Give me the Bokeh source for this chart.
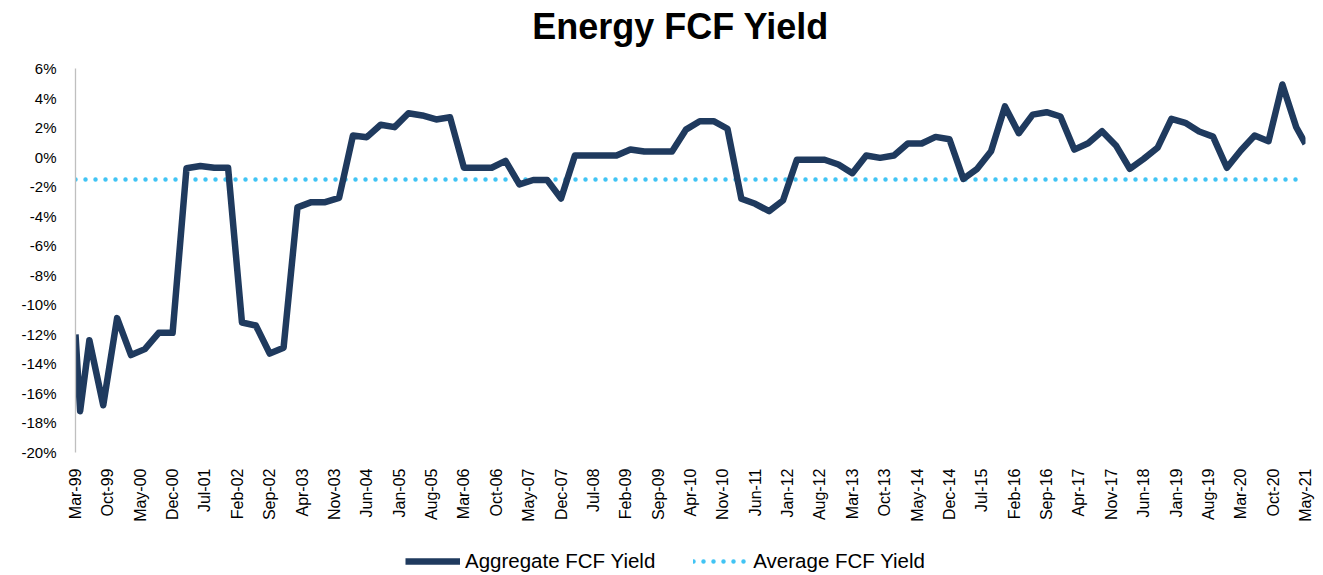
from bokeh.plotting import figure
from bokeh.layouts import column
from bokeh.models import FixedTicker, Legend, LegendItem, Label
from bokeh.embed import file_html
from bokeh.resources import INLINE

dates = [
    "1999-03", "1999-04", "1999-06", "1999-09", "1999-12",
    "2000-03", "2000-06", "2000-09", "2000-12",
    "2001-03", "2001-06", "2001-09", "2001-12",
    "2002-03", "2002-06", "2002-09", "2002-12",
    "2003-03", "2003-06", "2003-09", "2003-12",
    "2004-03", "2004-06", "2004-09", "2004-12",
    "2005-03", "2005-06", "2005-09", "2005-12",
    "2006-03", "2006-06", "2006-09", "2006-12",
    "2007-03", "2007-06", "2007-09", "2007-12",
    "2008-03", "2008-06", "2008-09", "2008-12",
    "2009-03", "2009-06", "2009-09", "2009-12",
    "2010-03", "2010-06", "2010-09", "2010-12",
    "2011-03", "2011-06", "2011-09", "2011-12",
    "2012-03", "2012-06", "2012-09", "2012-12",
    "2013-03", "2013-06", "2013-09", "2013-12",
    "2014-03", "2014-06", "2014-09", "2014-12",
    "2015-03", "2015-06", "2015-09", "2015-12",
    "2016-03", "2016-06", "2016-09", "2016-12",
    "2017-03", "2017-06", "2017-09", "2017-12",
    "2018-03", "2018-06", "2018-09", "2018-12",
    "2019-03", "2019-06", "2019-09", "2019-12",
    "2020-03", "2020-06", "2020-09", "2020-12",
    "2021-03", "2021-05",
]

aggregate_fcf_yield = [
    -12.0, -17.2, -12.4, -16.8, -10.9,
    -13.4, -13.0, -11.9, -11.9,
    -0.75, -0.6, -0.72, -0.72,
    -11.2, -11.4, -13.3, -12.9,
    -3.4, -3.05, -3.05, -2.76,
    1.46, 1.35, 2.19, 2.03,
    2.97, 2.82, 2.55, 2.70,
    -0.72, -0.72, -0.72, -0.25,
    -1.85, -1.55, -1.55, -2.8,
    0.11, 0.11, 0.11, 0.11,
    0.52, 0.38, 0.38, 0.38,
    1.86, 2.43, 2.43, 1.92,
    -2.82, -3.16, -3.66, -2.94,
    -0.18, -0.18, -0.18, -0.50,
    -1.09, 0.11, -0.05, 0.11,
    0.92, 0.92, 1.37, 1.21,
    -1.47, -0.79, 0.40, 3.43,
    1.62, 2.88, 3.04, 2.75,
    0.51, 0.94, 1.75, 0.79,
    -0.79, -0.12, 0.63, 2.59,
    2.32, 1.73, 1.39, -0.72,
    0.45, 1.46, 1.08, 4.92,
    2.02, 0.90,
]

average_fcf_yield = -1.52

title_text = "Energy FCF Yield"

x_tick_labels = [
    "Mar-99", "Oct-99", "May-00", "Dec-00", "Jul-01", "Feb-02", "Sep-02",
    "Apr-03", "Nov-03", "Jun-04", "Jan-05", "Aug-05", "Mar-06", "Oct-06",
    "May-07", "Dec-07", "Jul-08", "Feb-09", "Sep-09", "Apr-10", "Nov-10",
    "Jun-11", "Jan-12", "Aug-12", "Mar-13", "Oct-13", "May-14", "Dec-14",
    "Jul-15", "Feb-16", "Sep-16", "Apr-17", "Nov-17", "Jun-18", "Jan-19",
    "Aug-19", "Mar-20", "Oct-20", "May-21",
]

y_ticks = [-20, -18, -16, -14, -12, -10, -8, -6, -4, -2, 0, 2, 4, 6]
y_tick_labels = ["-20%", "-18%", "-16%", "-14%", "-12%", "-10%", "-8%", "-6%",
                 "-4%", "-2%", "0%", "2%", "4%", "6%"]

MONTHS = {"Jan": 1, "Feb": 2, "Mar": 3, "Apr": 4, "May": 5, "Jun": 6,
          "Jul": 7, "Aug": 8, "Sep": 9, "Oct": 10, "Nov": 11, "Dec": 12}


def month_index(year, month):
    return (year - 1999) * 12 + (month - 3)


x_vals = [month_index(int(d[:4]), int(d[5:])) for d in dates]
x_tick_pos = []
for lab in x_tick_labels:
    mn, yy = lab.split("-")
    yr = int(yy) + (1900 if int(yy) > 50 else 2000)
    x_tick_pos.append(month_index(yr, MONTHS[mn]))

avg_x = [x_vals[0], x_vals[-1]]
avg_y = [average_fcf_yield, average_fcf_yield]

FONT = "Liberation Sans"
NAVY = "#1f3a5e"
CYAN = "#41c4f4"


def bare(fig):
    fig.outline_line_color = None
    fig.xgrid.grid_line_color = None
    fig.ygrid.grid_line_color = None
    fig.background_fill_color = "white"
    fig.border_fill_color = "white"


# ---- title strip ----
tf = figure(width=1323, height=58, output_backend="svg", toolbar_location=None,
            x_axis_type=None, y_axis_type=None,
            x_range=(x_tick_pos[0], x_tick_pos[-1]), y_range=(0, 1), min_border=0)
bare(tf)
tf.add_layout(Label(x=(x_tick_pos[0] + x_tick_pos[-1]) / 2, y=32, y_units="screen",
                    x_offset=-10, text=title_text, text_align="center",
                    text_baseline="alphabetic", text_font=FONT,
                    text_font_size="36px", text_font_style="bold",
                    text_color="#000000"))

# ---- main chart ----
p = figure(width=1323, height=472, output_backend="svg", toolbar_location=None,
           x_range=(x_tick_pos[0], x_tick_pos[-1]), y_range=(-20, 6),
           min_border_left=75, min_border_right=18, min_border_top=10,
           min_border_bottom=78)
bare(p)

p.line(avg_x, avg_y, line_color=CYAN, line_width=4.5, line_dash="0 10",
       line_cap="round")
p.line(x_vals, aggregate_fcf_yield, line_color=NAVY, line_width=6.5,
       line_join="round")

p.yaxis.ticker = FixedTicker(ticks=y_ticks)
p.yaxis.major_label_overrides = {t: l for t, l in zip(y_ticks, y_tick_labels)}
p.yaxis.axis_line_color = "#bfbfbf"
p.yaxis.axis_line_width = 1.3
p.yaxis.major_tick_line_color = None
p.yaxis.minor_tick_line_color = None
p.yaxis.major_label_text_font = FONT
p.yaxis.major_label_text_font_size = "15px"
p.yaxis.major_label_text_color = "#000000"
p.yaxis.major_label_standoff = 13

p.xaxis.ticker = FixedTicker(ticks=x_tick_pos)
p.xaxis.major_label_overrides = {t: l for t, l in zip(x_tick_pos, x_tick_labels)}
p.xaxis.major_label_orientation = 3.14159265 / 2
p.xaxis.axis_line_color = None
p.xaxis.major_tick_line_color = None
p.xaxis.minor_tick_line_color = None
p.xaxis.major_label_text_font = FONT
p.xaxis.major_label_text_font_size = "16px"
p.xaxis.major_label_text_color = "#000000"
p.xaxis.major_label_standoff = 10

# ---- legend strip: same series, drawn outside this strip's ranges ----
leg = figure(width=1323, height=45, output_backend="svg", toolbar_location=None,
             x_axis_type=None, y_axis_type=None,
             x_range=(x_tick_pos[0], x_tick_pos[-1]), y_range=(100, 101),
             min_border=0)
bare(leg)
agg_r = leg.line(x_vals, aggregate_fcf_yield, line_color=NAVY, line_width=6.5)
avg_r = leg.line(avg_x, avg_y, line_color=CYAN, line_width=4.5,
                 line_dash="0 10", line_cap="round")

legend = Legend(items=[LegendItem(label="Aggregate FCF Yield", renderers=[agg_r]),
                       LegendItem(label="Average FCF Yield", renderers=[avg_r])],
                orientation="horizontal", location=(330, 2),
                glyph_width=55, glyph_height=20, label_height=20,
                label_standoff=5, spacing=38,
                padding=0, margin=0, border_line_color=None,
                background_fill_alpha=0,
                label_text_font=FONT, label_text_font_size="20.5px",
                label_text_color="#000000")
leg.add_layout(legend)

layout = column(tf, p, leg, spacing=0)
open("out.html", "w").write(file_html(layout, INLINE))
